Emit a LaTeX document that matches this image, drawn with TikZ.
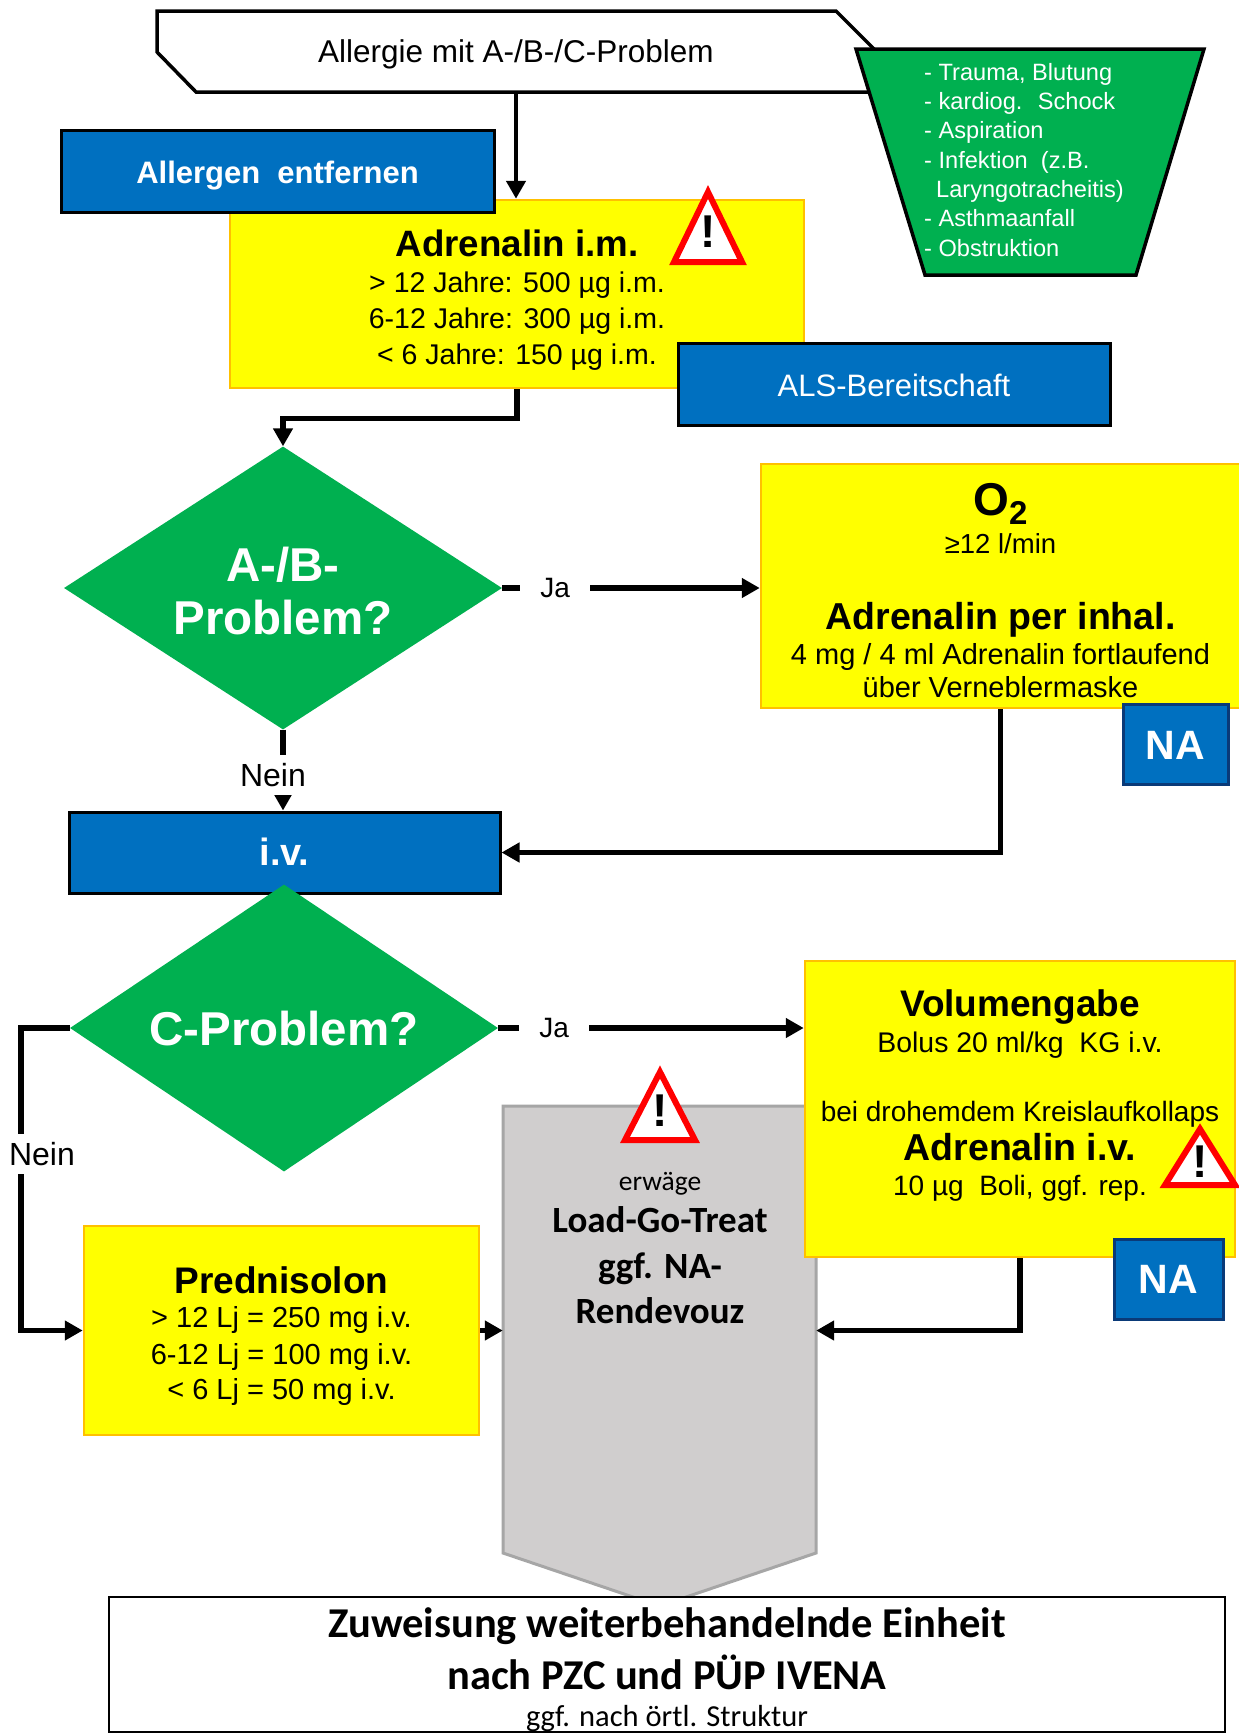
\documentclass[tikz,border=0pt]{standalone}
\usepackage{fontspec}
\setmainfont{Liberation Sans}
\newfontfamily\carlitofont{Carlito}
\usetikzlibrary{shapes.geometric,arrows.meta,calc}
\newcommand{\fs}[1]{\fontsize{#1}{#1}\selectfont}
\newcommand{\stackfont}{\fontsize{10}{0}\selectfont\lineskip=0pt\lineskiplimit=0pt\relax}
% one line of a stack: distance to the previous baseline, size, text
\newcommand{\tl}[3]{\rule[-8pt]{0pt}{#1pt}{\fs{#2}#3}}
% single line whose baseline lies #1 below the node centre
\newcommand{\vc}[2]{\rule[-20pt]{0pt}{\dimexpr40pt+#1pt+#1pt\relax}#2}
\definecolor{myblue}{HTML}{0070C0}
\definecolor{mygreen}{HTML}{00B050}
\definecolor{myyellow}{HTML}{FFFF00}
\definecolor{myorange}{HTML}{FFC000}
\definecolor{mygrey}{HTML}{D0CECE}
\definecolor{mygreyb}{HTML}{A6A6A6}
\definecolor{mynavy}{HTML}{0A3A78}
\tikzset{
  x=1pt,y=-1pt,
  stack/.style={font=\stackfont},
  box/.style={rectangle,inner sep=0pt,align=center},
  yellowbox/.style={box,stack,fill=myyellow,draw=myorange,line width=2.5pt},
  bluebox/.style={box,fill=myblue,draw=black,line width=3pt,text=white},
  nabox/.style={box,fill=myblue,draw=mynavy,line width=3pt,text=white,font=\bfseries\fs{41}},
  dec/.style={diamond,aspect=1.55,inner sep=0pt,fill=mygreen,align=center,text=white},
  tipstyle/.style={-{Triangle[length=18pt,width=19pt]}},
  conn/.style={line width=5.5pt,tipstyle},
  lab/.style={fill=white,inner xsep=20pt,inner ysep=1pt,font=\fs{28}},
  neinlab/.style={fill=white,inner xsep=1pt,inner ysep=8pt,font=\fs{32}},
  warnshape/.style={fill=white,draw=red,line width=6pt,miter limit=10},
}
% #1 name, #2 apex x, #3 apex y, #4 half width, #5 base y
\newcommand{\warning}[5]{%
  \draw[warnshape] (#2,#3+7) -- (#2+#4-5,#5-3) -- (#2-#4+5,#5-3) -- cycle;
  \node[inner sep=0pt,font=\bfseries\fs{46}] (#1) at (#2,{(#3+#5)/2+7}) {!};
}
\begin{document}
\begin{tikzpicture}
\useasboundingbox (0,0) rectangle (1239,1733);
\fill[white] (0,0) rectangle (1239,1733);

% start
\draw[line width=3.5pt,fill=white,line join=miter] (157,11) -- (836,11) -- (880,55) -- (880,92) -- (196,92) -- (157,52) -- cycle;
\node[box,minimum width=600pt,minimum height=81pt,font=\fs{31.5}] (start) at (516,51.5) {\vc{10.5}{Allergie mit A-/B-/C-Problem}};

% green list
\draw[line width=3.5pt,fill=mygreen] (856,49) -- (1204,49) -- (1136,275) -- (925,275) -- cycle;
\node[inner sep=0pt,stack,align=left,text=white,anchor=north west] (causes) at (924,58)
 {\tl{30}{23.6}{- Trauma, Blutung}\\\tl{29.3}{23.6}{- kardiog.~ Schock}\\\tl{29.3}{23.6}{- Aspiration}\\\tl{29.3}{23.6}{- Infektion~ (z.B.}\\\tl{29.3}{23.6}{\hspace*{12pt}Laryngotracheitis)}\\\tl{29.3}{23.6}{- Asthmaanfall}\\\tl{29.3}{23.6}{- Obstruktion}};

% adrenalin
\node[yellowbox,minimum width=574pt,minimum height=188pt] (adr) at (517,294)
 {\tl{48}{36.7}{\bfseries Adrenalin i.m.}\\
  \tl{36}{28.5}{\textgreater{} 12 Jahre: 500 µg i.m.}\\
  \tl{36}{28.5}{6-12 Jahre: 300 µg i.m.}\\
  \tl{36}{28.5}{\textless{} 6 Jahre: 150 µg i.m.}};
\node[bluebox,minimum width=433pt,minimum height=82pt,font=\bfseries\fs{31}] (allergen) at (277.5,171) {\vc{12}{Allergen~ entfernen}};
\node[bluebox,minimum width=432pt,minimum height=82pt,font=\fs{31}] (als) at (894,384) {\vc{12}{ALS-Bereitschaft}};
\warning{w1}{708}{185}{39}{265}

% diamond 1
\node[dec,stack,minimum width=438pt,minimum height=283pt] (d1) at (283,588) {\tl{55}{47.5}{\bfseries A-/B-}\\\tl{53}{47.5}{\bfseries Problem?}};

% O2
\node[yellowbox,minimum width=479pt,minimum height=244pt] (o2) at (1000.5,586)
 {\tl{57}{46}{\bfseries O\raisebox{-9pt}{\fs{33}2}}\\
  \tl{37}{27.5}{≥12 l/min}\\
  \tl{76}{37.5}{\bfseries Adrenalin per inhal.}\\
  \tl{35}{29}{4 mg / 4 ml Adrenalin fortlaufend}\\
  \tl{33}{29}{über Verneblermaske}};
\node[nabox,minimum width=105pt,minimum height=80pt] (na1) at (1175.5,744) {\vc{15}{NA}};

% iv
\node[bluebox,minimum width=431pt,minimum height=81pt,font=\bfseries\fs{38}] (iv) at (284.5,852.5) {\vc{13}{i.v.}};

% diamond 2
\node[dec,minimum width=428pt,minimum height=287pt,font=\bfseries\fs{47.5}] (d2) at (284,1028) {\vc{17}{C-Problem?}};

% grey pentagon
\draw[line width=3pt,draw=mygreyb,fill=mygrey] (503,1106) -- (816,1106) -- (816,1553) -- (659.5,1606) -- (503,1553) -- cycle;
\node[box,minimum width=313pt,minimum height=447pt,anchor=north] (grey) at (659.5,1106) {};
\node[inner sep=0pt,stack,align=center,anchor=north] (greytext) at (660,1158)
 {\tl{40}{27.5}{\carlitofont erwäge}\\
  \tl{42}{37}{\carlitofont\bfseries Load-Go-Treat}\\
  \tl{46}{37}{\carlitofont\bfseries ggf. NA-}\\
  \tl{45}{37}{\carlitofont\bfseries Rendevouz}};
\warning{w2}{660}{1065}{40}{1143}

% volumen
\node[yellowbox,minimum width=430pt,minimum height=296pt] (vol) at (1020,1109)
 {\tl{36}{37}{\bfseries Volumengabe}\\
  \tl{36}{28.4}{Bolus 20 ml/kg~ KG i.v.}\\
  \tl{69}{28}{bei drohemdem Kreislaufkollaps}\\
  \tl{39}{37.5}{\bfseries Adrenalin i.v.}\\
  \rule[-35pt]{0pt}{35pt}\tl{35}{28}{10 µg~ Boli, ggf. rep.}};
\node[nabox,minimum width=109pt,minimum height=80pt] (na2) at (1168.5,1279) {\vc{14}{NA}};
\warning{w3}{1200}{1122}{40}{1188}

% prednisolon
\node[yellowbox,minimum width=395pt,minimum height=209pt] (pred) at (281.5,1330.5)
 {\tl{47}{37}{\bfseries Prednisolon}\\
  \tl{34}{29}{\textgreater{} 12 Lj = 250 mg i.v.}\\
  \tl{37}{29}{6-12 Lj = 100 mg i.v.}\\
  \tl{35}{29}{\textless{} 6 Lj = 50 mg i.v.}};

% bottom
\node[box,stack,fill=white,draw=black,line width=2.5pt,minimum width=1116pt,minimum height=135pt] (bottom) at (667,1664.5)
 {\tl{46}{42.5}{\carlitofont\bfseries Zuweisung weiterbehandelnde Einheit}\\
  \tl{52}{42.5}{\carlitofont\bfseries nach PZC und PÜP IVENA}\\
  \rule[-4pt]{0pt}{33pt}\smash{\fs{30.5}\carlitofont ggf. nach örtl. Struktur}};

% connectors
\draw[line width=4.5pt,tipstyle] (start.south) -- (start.south |- adr.north);
\coordinate (c1) at ($(adr.south)+(0,29)$);
\draw[conn] (adr.south) -- (c1) -| (d1.north);
\draw[conn] (d1.east) -- node[lab,pos=0.206] (ja1) {Ja} (d1.east -| o2.west);
\draw[conn] (o2.south) |- (iv.east);
\draw[conn] (d1.south) -- node[neinlab,pos=0.56,xshift=-10pt] (nein1) {Nein} (d1.south |- iv.north);
\draw[conn] (d2.east) -- node[lab,pos=0.183] (ja2) {Ja} (d2.east -| vol.west);
\coordinate (c3) at (21,1028);
\coordinate (c4) at (21,1330.5);
\draw[conn] (d2.west) -- (c3) -- node[neinlab,pos=0.417,xshift=21pt] (nein2) {Nein} (c4) -- (pred.west);
\draw[conn] (pred.east) -- (pred.east -| grey.west);
\coordinate (c5) at (1020,1330.5);
\draw[conn] (vol.south) -- (c5) -- (c5 -| grey.east);
\end{tikzpicture}
\end{document}
